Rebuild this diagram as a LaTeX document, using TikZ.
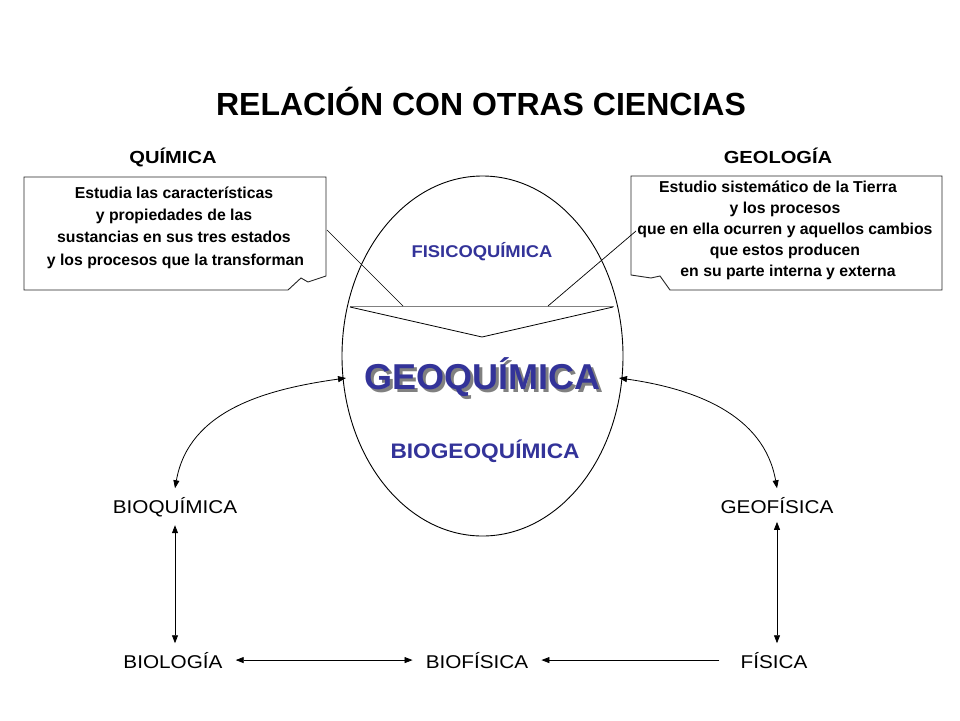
\documentclass[tikz,border=0pt]{standalone}
\usepackage{fontspec}
\setmainfont{Liberation Sans}
\newfontfamily\wideA{Liberation Sans}[FakeStretch=1.12]
\newfontfamily\wideH{Liberation Sans}[FakeStretch=1.15]
\newfontfamily\wideB{Liberation Sans}[FakeStretch=1.08]
\usetikzlibrary{shapes.geometric,arrows.meta}
\definecolor{geoblue}{HTML}{333399}
\begin{document}
\begin{tikzpicture}[x=1pt,y=-1pt,
  lbl/.style={font=\wideA\fontsize{18.5}{22}\selectfont, inner xsep=13pt, inner ysep=8.5pt, anchor=base},
  hdr/.style={font=\wideH\bfseries\fontsize{17.5}{20}\selectfont, anchor=base},
  boxtxt/.style={font=\bfseries\fontsize{15.8}{22.3}\selectfont, align=center, inner sep=0pt},
  boxtxtb/.style={font=\bfseries\fontsize{15.8}{21}\selectfont, align=center, inner sep=0pt},
  callout/.style={draw=black!85, line width=0.9pt, fill=white},
  bluetxt/.style={text=geoblue, anchor=base},
  arrtwo/.style={line width=0.8pt, {Triangle[length=8pt,width=6pt]}-{Triangle[length=8pt,width=6pt]}},
  arrone/.style={line width=0.8pt, -{Triangle[length=8pt,width=6pt]}},
  thin line/.style={line width=0.8pt}]
\fill[white] (0,0) rectangle (960,720);
\useasboundingbox (0,0) rectangle (960,720);

% title
\node[font=\bfseries\fontsize{32}{38}\selectfont, anchor=base] (title) at (481,115) {RELACIÓN CON OTRAS CIENCIAS};

% ellipse
\node[draw, ellipse, line width=0.9pt, minimum width=281pt, minimum height=360pt, inner sep=0pt] (ell) at (482.5,356) {};

% divider and V
\coordinate (hl) at (350,306);
\coordinate (hr) at (614,306);
\coordinate (vl) at (350,307);
\coordinate (vr) at (613,307);
\coordinate (vb) at (482,337);
\draw[gray, line width=0.9pt] (hl) -- (hr);
\draw[thin line] (vl) -- (vb) -- (vr);

% callout boxes
\draw[callout] (24,177) -- (326,177) -- (326,276) -- (308,282) -- (301,278) -- (288,290) -- (24,290) -- cycle;
\draw[callout] (631,176) -- (942,176) -- (942,290) -- (670,290) -- (660,276) -- (651,278) -- (631,275) -- cycle;

\node[boxtxt] (qtxt) at (174,227.5) {Estudia las características\\y propiedades de las\\sustancias en sus tres estados\hspace*{6pt}\\\hspace*{3pt}y los procesos que la transforman};
\node[boxtxtb] (gtxt) at (785,230) {Estudio sistemático de la Tierra\hspace*{14pt}\\y los procesos\\que en ella ocurren y aquellos cambios\\que estos producen\\\hspace*{6pt}en su parte interna y externa};

% pointer lines
\coordinate (pl1) at (327,230);
\coordinate (pl2) at (403,306);
\coordinate (pr1) at (636,231);
\coordinate (pr2) at (548,306);
\draw[line width=0.7pt] (pl1) -- (pl2);
\draw[line width=0.7pt] (pr1) -- (pr2);

% headers
\node[hdr] (quim) at (173,163) {QUÍMICA};
\node[hdr] (geol) at (778,163) {GEOLOGÍA};

% blue texts
\node[bluetxt, font=\wideB\bfseries\fontsize{17}{20}\selectfont] (fisq) at (482,257) {FISICOQUÍMICA};
\node[bluetxt, font=\bfseries\fontsize{36}{40}\selectfont] (geoq) at (482,389)
  {\makebox[0pt][l]{\hspace*{3pt}\raisebox{-3pt}{\color{gray}GEOQUÍMICA}}GEOQUÍMICA};
\node[bluetxt, font=\wideB\bfseries\fontsize{21}{24}\selectfont] (biogeo) at (485,458) {BIOGEOQUÍMICA};

% labels
\node[lbl] (bioq) at (175,513) {BIOQUÍMICA};
\node[lbl] (geof) at (777,513) {GEOFÍSICA};
\node[lbl] (biol) at (173,668) {BIOLOGÍA};
\node[lbl] (biof) at (477,668) {BIOFÍSICA};
\node[lbl] (fis) at (774,668) {FÍSICA};

% arrows
\coordinate (eL) at (346,378);
\coordinate (eR) at (619,378);
\draw[arrtwo] (bioq.north) to[out=80,in=188] (eL);
\draw[arrtwo] (geof.north) to[out=100,in=-8] (eR);
\draw[arrtwo] (bioq.south) -- (bioq.south |- biol.north);
\draw[arrtwo] (geof.south) -- (geof.south |- fis.north);
\draw[arrtwo] (biol.east) -- (biof.west);
\draw[arrone, shorten <=8pt] (fis.west) -- (biof.east);
\end{tikzpicture}
\end{document}
